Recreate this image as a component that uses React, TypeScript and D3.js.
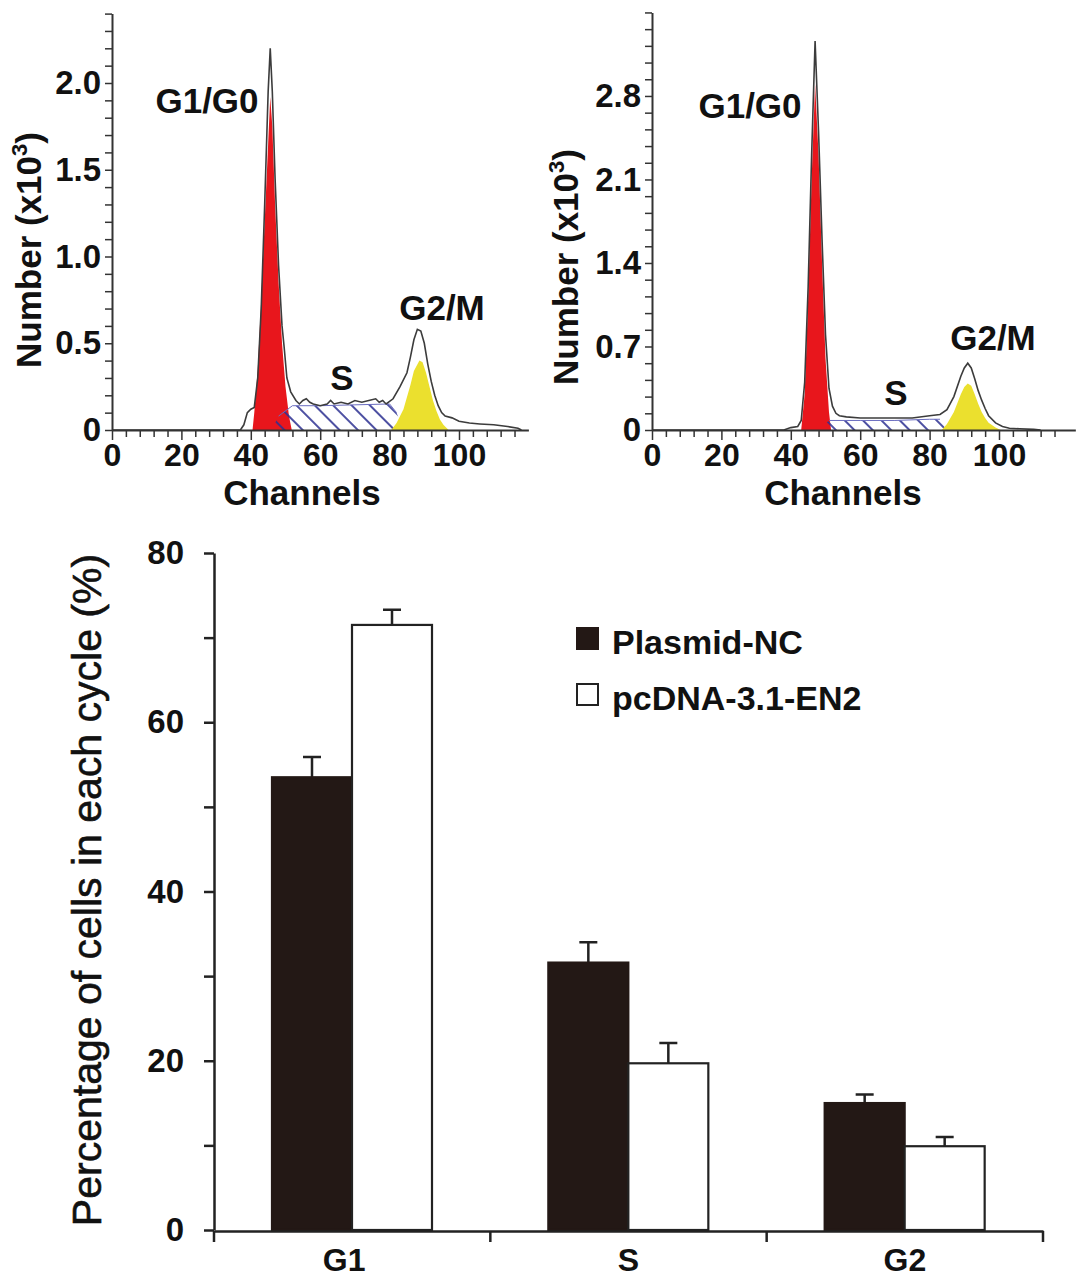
import React, { useEffect, useRef } from "react";
import * as d3 from "d3";

// Histogram readings: [channel, count x10^3]
const leftOuter: [number, number][] = [
    [0, 0], [37, 0], [38, 0.03], [39, 0.1], [40, 0.12], [41, 0.13], [42, 0.3],
    [43, 0.7], [44, 1.3], [45, 1.95], [45.6, 2.2], [46.2, 1.95], [47, 1.45],
    [48, 0.95], [49, 0.6], [49.6, 0.48], [50.4, 0.3], [51.5, 0.22], [53, 0.17],
    [54, 0.15], [55, 0.17], [56, 0.18], [57, 0.16], [58, 0.15], [60, 0.14],
    [62, 0.15], [63, 0.17], [64, 0.15], [66, 0.16], [68, 0.15], [70, 0.17],
    [72, 0.16], [74, 0.17], [76, 0.18], [77, 0.16], [78, 0.17], [79, 0.15],
    [81, 0.18], [83, 0.25], [85, 0.33], [86, 0.42], [87, 0.52], [88, 0.58],
    [89, 0.57], [90, 0.5], [91, 0.38], [92, 0.28], [93, 0.2], [94, 0.14],
    [95, 0.1], [96, 0.08], [98, 0.07], [100, 0.05], [103, 0.04], [106, 0.035],
    [110, 0.03], [114, 0.02], [117, 0.01], [118, 0],
];
const leftG1: [number, number][] = [
    [40.5, 0], [41, 0.1], [42, 0.35], [43, 0.75], [44, 1.2], [45, 1.65],
    [45.6, 1.92], [46.2, 1.75], [47, 1.3], [48, 0.85], [49, 0.5], [50, 0.25],
    [51, 0.08], [51.8, 0],
];
const leftS: [number, number][] = [
    [46, 0], [48, 0.08], [52, 0.14], [60, 0.14], [70, 0.145], [80, 0.15],
    [82, 0.1], [84, 0],
];
const leftG2: [number, number][] = [
    [80.5, 0], [82, 0.04], [84, 0.12], [86, 0.26], [87, 0.34], [88.6, 0.4],
    [89.5, 0.39], [90.5, 0.33], [91.5, 0.25], [92.5, 0.17], [93.5, 0.11], [94.5, 0.06],
    [95.5, 0.03], [97, 0],
];

const rightOuter: [number, number][] = [
    [0, 0], [38, 0], [40, 0.02], [42, 0.03], [43, 0.08], [44, 0.4], [45, 1.2],
    [46, 2.3], [47, 3.26], [48, 2.5], [49, 1.6], [50, 0.8], [51, 0.35],
    [52, 0.2], [53, 0.14], [54, 0.12], [56, 0.11], [60, 0.1], [65, 0.1],
    [70, 0.1], [75, 0.1], [80, 0.12], [83, 0.13], [85, 0.17], [87, 0.28],
    [89, 0.45], [90, 0.52], [91, 0.56], [92, 0.52], [93, 0.43], [94, 0.33],
    [95, 0.25], [96, 0.18], [97, 0.12], [99, 0.06], [101, 0.03], [103, 0.015],
    [106, 0.01], [110, 0.005], [112, 0],
];
const rightG1: [number, number][] = [
    [43, 0], [44, 0.3], [45, 1.1], [46, 2.1], [47, 2.9], [48, 2.3], [49, 1.4],
    [50, 0.6], [51, 0.15], [51.6, 0],
];
const rightS: [number, number][] = [
    [48, 0], [51, 0.08], [60, 0.08], [70, 0.08], [80, 0.09], [83, 0.09], [85, 0],
];
const rightG2: [number, number][] = [
    [83.5, 0], [85, 0.05], [87, 0.15], [89, 0.3], [90, 0.36], [91, 0.39],
    [92, 0.37], [93, 0.3], [94, 0.22], [95, 0.15], [96, 0.1], [97, 0.06],
    [99, 0.02], [100.5, 0],
];

// Bar chart
const phases = ["G1", "S", "G2"];
const seriesNames = ["Plasmid-NC", "pcDNA-3.1-EN2"];
const plasmidNC = [53.5, 31.6, 15.0];
const plasmidNCErr = [2.4, 2.4, 1.0];
const pcDNA = [71.5, 19.7, 9.9];
const pcDNAErr = [1.8, 2.4, 1.1];

const FONT = "'Liberation Sans', Arial, Helvetica, sans-serif";
const BAR_DARK = "#231815";

type Panel = {
    x0: number;
    xMax: number;
    yMax: number;
    yStep: number;
    pxPerUnit: number;
    labelMax: number;
    outer: [number, number][];
    g1: [number, number][];
    s: [number, number][];
    g2: [number, number][];
    labelG1: [number, number];
    labelS: [number, number];
    labelG2: [number, number];
    yTitle: [number, number];
    xTitle: number;
};

const App: React.FC = () => {
    const svgRef = useRef<SVGSVGElement | null>(null);

    useEffect(() => {
        const root = d3.select(svgRef.current);
        root.selectAll("*").remove();

        // hatch pattern for S phase
        root.append("defs")
            .append("pattern")
            .attr("id", "hatch")
            .attr("patternUnits", "userSpaceOnUse")
            .attr("width", 13)
            .attr("height", 13)
            .attr("patternTransform", "rotate(-45)")
            .append("line")
            .attr("x1", 1).attr("y1", 0)
            .attr("x2", 1).attr("y2", 13)
            .attr("stroke", "#2e3192")
            .attr("stroke-width", 1.7);

        const drawPanel = (p: Panel) => {
            const pxPerCh = 3.47;
            const x = d3.scaleLinear().domain([0, p.xMax]).range([p.x0, p.x0 + p.xMax * pxPerCh]);
            const y = d3.scaleLinear().domain([0, p.yMax]).range([430, 430 - p.yMax * p.pxPerUnit]);
            const g = root.append("g");

            const area = d3.area<[number, number]>()
                .x((d) => x(d[0]))
                .y0(y(0))
                .y1((d) => y(d[1]));
            const line = d3.line<[number, number]>()
                .x((d) => x(d[0]))
                .y((d) => y(d[1]));

            g.append("path").attr("d", area(p.g1)).attr("fill", "#e8161c");
            g.append("path").attr("d", area(p.s)).attr("fill", "url(#hatch)");
            g.append("path").attr("d", line(p.s.slice(1, -1))).attr("fill", "none")
                .attr("stroke", "#6a6cc0").attr("stroke-width", 1);
            g.append("path").attr("d", area(p.g2)).attr("fill", "#ebe02e");
            g.append("path").attr("d", line(p.outer)).attr("fill", "none")
                .attr("stroke", "#3c3c3c").attr("stroke-width", 1.6);

            // y axis
            const nY = Math.round(p.yMax / p.yStep);
            const yVals = d3.range(0, nY + 1).map((i) => i * p.yStep);
            const yAxis = g.append("g")
                .attr("transform", `translate(${p.x0},0)`)
                .call(
                    d3.axisLeft(y)
                        .tickValues(yVals)
                        .tickSize(7)
                        .tickSizeOuter(0)
                        .tickPadding(4)
                        .tickFormat((d, i) =>
                            i % 5 === 0 && (d as number) <= p.labelMax + 1e-6
                                ? i === 0 ? "0" : d3.format(".1f")(d as number)
                                : ""
                        )
                );
            yAxis.selectAll("line").attr("stroke", "#333").attr("stroke-width", 1.5);
            yAxis.select(".domain").attr("stroke", "#333").attr("stroke-width", 2);
            yAxis.selectAll("text")
                .attr("font-family", FONT).attr("font-size", 33).attr("font-weight", "bold")
                .attr("fill", "#111");

            // x axis: minor every 4 channels, major every 20
            const xAxis = g.append("g").attr("transform", "translate(0,430)");
            xAxis.call(
                d3.axisBottom(x)
                    .tickValues(d3.range(0, p.xMax + 0.01, 4).filter((v) => v % 20 !== 0))
                    .tickSize(7)
                    .tickSizeOuter(0)
                    .tickFormat(() => "")
            );
            xAxis.selectAll("line").attr("stroke", "#333").attr("stroke-width", 1.5);
            xAxis.select(".domain").attr("stroke", "#333").attr("stroke-width", 2);
            const xMajor = g.append("g").attr("transform", "translate(0,430)");
            xMajor.call(
                d3.axisBottom(x)
                    .tickValues(d3.range(0, 101, 20))
                    .tickSize(10)
                    .tickSizeOuter(0)
                    .tickPadding(3)
                    .tickFormat(d3.format("d"))
            );
            xMajor.select(".domain").remove();
            xMajor.selectAll("line").attr("stroke", "#333").attr("stroke-width", 1.5);
            xMajor.selectAll("text")
                .attr("font-family", FONT).attr("font-size", 32).attr("font-weight", "bold")
                .attr("fill", "#111");

            const label = (txt: string, pos: [number, number]) =>
                g.append("text")
                    .attr("x", pos[0]).attr("y", pos[1])
                    .attr("text-anchor", "middle")
                    .attr("font-family", FONT).attr("font-size", 35).attr("font-weight", "bold")
                    .attr("fill", "#111")
                    .text(txt);
            label("G1/G0", p.labelG1);
            label("S", p.labelS);
            label("G2/M", p.labelG2);
            label("Channels", [p.xTitle, 505]);

            const yt = g.append("text")
                .attr("transform", `translate(${p.yTitle[0]},${p.yTitle[1]}) rotate(-90)`)
                .attr("text-anchor", "middle")
                .attr("font-family", FONT).attr("font-size", 35).attr("font-weight", "bold")
                .attr("fill", "#111");
            yt.append("tspan").text("Number (x10");
            yt.append("tspan").attr("dy", -14).attr("font-size", 22).text("3");
            yt.append("tspan").attr("dy", 14).text(")");
        };

        drawPanel({
            x0: 112, xMax: 120, yMax: 2.4, yStep: 0.1, pxPerUnit: 173.5, labelMax: 2.0,
            outer: leftOuter, g1: leftG1, s: leftS, g2: leftG2,
            labelG1: [207, 113], labelS: [342, 390], labelG2: [442, 320],
            yTitle: [41, 250], xTitle: 302,
        });
        drawPanel({
            x0: 652, xMax: 122, yMax: 3.5, yStep: 0.14, pxPerUnit: 119.3, labelMax: 2.8,
            outer: rightOuter, g1: rightG1, s: rightS, g2: rightG2,
            labelG1: [750, 118], labelS: [896, 405], labelG2: [993, 350],
            yTitle: [578, 267], xTitle: 843,
        });

        // ---- bar chart ----
        const b = root.append("g");
        const yB = d3.scaleLinear().domain([0, 80]).range([1230, 553]);
        const x0 = d3.scaleBand().domain(phases).range([214, 1043]).padding(0);
        const x1 = d3.scaleBand().domain(seriesNames).range([58, 218]).padding(0);

        const rows = phases.map((p, i) => ({
            phase: p,
            bars: [
                { key: seriesNames[0], value: plasmidNC[i], err: plasmidNCErr[i] },
                { key: seriesNames[1], value: pcDNA[i], err: pcDNAErr[i] },
            ],
        }));

        const groups = b.selectAll(".grp")
            .data(rows)
            .enter()
            .append("g")
            .attr("transform", (d) => `translate(${x0(d.phase)},0)`);

        // error bars
        groups.selectAll(".err")
            .data((d) => d.bars)
            .enter()
            .append("path")
            .attr("d", (d) => {
                const cx = x1(d.key)! + x1.bandwidth() / 2;
                const top = yB(d.value + d.err);
                return `M${cx},${yB(d.value)}V${top}M${cx - 9},${top}H${cx + 9}`;
            })
            .attr("stroke", "#222")
            .attr("stroke-width", 2.5)
            .attr("fill", "none");

        groups.selectAll("rect")
            .data((d) => d.bars)
            .enter()
            .append("rect")
            .attr("x", (d) => x1(d.key)!)
            .attr("y", (d) => yB(d.value))
            .attr("width", x1.bandwidth())
            .attr("height", (d) => 1230 - yB(d.value))
            .attr("fill", (d) => (d.key === seriesNames[0] ? BAR_DARK : "#fff"))
            .attr("stroke", (d) => (d.key === seriesNames[0] ? BAR_DARK : "#222"))
            .attr("stroke-width", 2.2);

        // y axis
        const yAx = b.append("g")
            .attr("transform", "translate(214,0)")
            .call(
                d3.axisLeft(yB)
                    .tickValues(d3.range(0, 81, 10))
                    .tickSize(10)
                    .tickSizeOuter(0)
                    .tickPadding(20)
                    .tickFormat((d) => ((d as number) % 20 === 0 ? String(d) : ""))
            );
        yAx.selectAll("line").attr("stroke", "#222").attr("stroke-width", 2.5);
        yAx.select(".domain").attr("stroke", "#222").attr("stroke-width", 2.5);
        yAx.selectAll("text")
            .attr("font-family", FONT).attr("font-size", 33).attr("font-weight", "bold")
            .attr("fill", "#111");

        // x axis with boundary ticks
        const xAx = b.append("g")
            .attr("transform", "translate(0,1231)")
            .call(d3.axisBottom(x0).tickSize(0).tickPadding(17).tickSizeOuter(0));
        xAx.select(".domain").attr("stroke", "#222").attr("stroke-width", 2.5);
        xAx.selectAll("text")
            .attr("font-family", FONT).attr("font-size", 32).attr("font-weight", "bold")
            .attr("fill", "#111")
            .attr("dx", (_d, i) => (i === 0 ? -8 : 0));
        const bounds = [...phases.map((p) => x0(p)!), x0.range()[1]];
        xAx.selectAll(".bound")
            .data(bounds)
            .enter()
            .append("line")
            .attr("x1", (d) => d).attr("x2", (d) => d)
            .attr("y1", 0).attr("y2", 11)
            .attr("stroke", "#222").attr("stroke-width", 2.5);

        // y title
        b.append("text")
            .attr("transform", "translate(101,890) rotate(-90)")
            .attr("text-anchor", "middle")
            .attr("font-family", FONT).attr("font-size", 41)
            .attr("fill", "#111")
            .attr("stroke", "#111").attr("stroke-width", 0.6)
            .text("Percentage of cells in each cycle (%)");

        // legend
        const legend = b.append("g").attr("transform", "translate(577,628)");
        seriesNames.forEach((name, i) => {
            legend.append("rect")
                .attr("x", 0).attr("y", i * 56)
                .attr("width", 21).attr("height", 21)
                .attr("fill", i === 0 ? BAR_DARK : "#fff")
                .attr("stroke", i === 0 ? BAR_DARK : "#222")
                .attr("stroke-width", 2);
            legend.append("text")
                .attr("x", 35).attr("y", i * 56 + 26)
                .attr("font-family", FONT).attr("font-size", 34).attr("font-weight", "bold")
                .attr("fill", "#111")
                .text(name);
        });
    }, []);

    return (
        <svg
            ref={svgRef}
            width={1087}
            height={1286}
            style={{ position: "absolute", left: 0, top: 0, background: "#fff" }}
        />
    );
};

export default App;
